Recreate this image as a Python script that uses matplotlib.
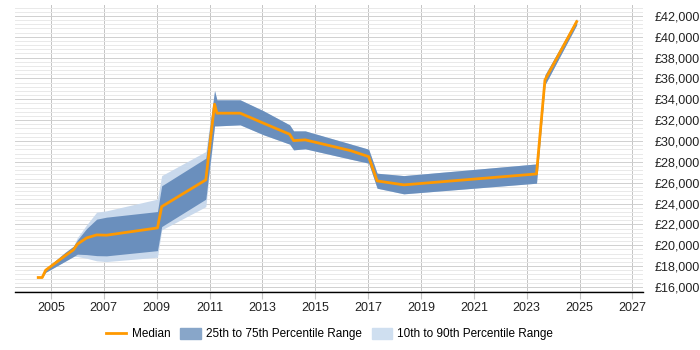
import matplotlib.pyplot as plt
from matplotlib.ticker import MultipleLocator, FuncFormatter
from matplotlib.patches import Patch
from matplotlib.lines import Line2D

plt.rcParams['font.family'] = ['Liberation Sans', 'DejaVu Sans']

# data (decimal years, GBP)
years = [2004.52, 2004.67, 2004.80, 2005.53, 2005.85, 2006.0, 2006.35, 2006.73, 2007.1,
         2009.03, 2009.19, 2010.86, 2011.19, 2011.28, 2012.16, 2013.04, 2014.03, 2014.18,
         2014.62, 2016.33, 2017.02, 2017.34, 2018.35, 2023.37, 2023.69, 2024.89]
median = [16900, 16900, 17600, 18975, 19550, 20100, 20700, 20990, 20960,
          21660, 23700, 26270, 33530, 32670, 32670, 31710, 30650, 30040,
          30110, 29080, 28500, 26170, 25790, 26840, 35860, 41460]
q75 = [16900, 16900, 17750, 19300, 19900, 20500, 21600, 22500, 22690,
       23230, 25700, 28350, 34840, 33950, 33950, 32900, 31550, 30970,
       30970, 29720, 29210, 26910, 26680, 27800, 36350, 41720]
q25 = [16900, 16900, 17400, 18450, 18910, 19140, 19100, 19000, 18980,
       19480, 21790, 24420, 31450, 31450, 31550, 30600, 29700, 29150,
       29250, 28260, 27870, 25470, 24930, 25950, 35390, 41140]
p90 = [16900, 16900, 17750, 19300, 19900, 20730, 21950, 23170, 23300,
       24420, 26680, 28990, 34840, 33950, 33950, 32900, 31550, 30970,
       30970, 29720, 29210, 26910, 26680, 27800, 36350, 41720]
p10 = [16900, 16900, 17400, 18450, 18910, 18910, 18750, 18500, 18430,
       18850, 21470, 23700, 31450, 31450, 31550, 30600, 29700, 29150,
       29250, 28260, 27870, 25470, 24930, 25950, 35390, 41140]
tick_years = list(range(2005, 2028, 2))

c_median = '#ff9900'
c_iqr = '#6a8fbd'
c_outer = '#c9d9ec'

fig = plt.figure(figsize=(7, 3.5), dpi=100)
ax = fig.add_axes([0.0214, 0.166, 0.8972, 0.8197])

ax.fill_between(years, p10, p90, color=c_outer, lw=0)
ax.fill_between(years, q25, q75, color=c_iqr, lw=0)
ax.plot(years, median, color=c_median, lw=2)

ax.set_xlim(2003.64, 2027.4)
ax.set_ylim(15520, 43050)

ax.set_xticks(tick_years)
ax.set_xticklabels([str(y) for y in tick_years])
ax.yaxis.set_major_locator(MultipleLocator(2000))
ax.yaxis.set_minor_locator(MultipleLocator(400))
ax.yaxis.set_major_formatter(FuncFormatter(lambda v, p: f'£{int(v):,}'))
ax.yaxis.tick_right()

ax.grid(True, which='major', axis='x', color='#c4c4c4', lw=0.7)
ax.grid(True, which='major', axis='y', color='#d0d0d0', lw=0.7)
ax.grid(True, which='minor', axis='y', color='#e9e9e9', lw=0.7)
ax.set_axisbelow(True)

for s in ['top', 'left', 'right']:
    ax.spines[s].set_visible(False)
ax.spines['bottom'].set_color('#000000')
ax.spines['bottom'].set_linewidth(1)

ax.tick_params(axis='x', length=5, color='#c4c4c4', labelsize=9, pad=2, labelcolor='#222222')
ax.tick_params(axis='y', which='both', length=0, labelsize=9, pad=8, labelcolor='#222222')

handles = [Line2D([0], [0], color=c_median, lw=2),
           Patch(color='#88a6c9'), Patch(color='#cfdff0')]
labels = ['Median', '25th to 75th Percentile Range', '10th to 90th Percentile Range']
fig.legend(handles, labels, loc='center', bbox_to_anchor=(0.471, 0.045), ncol=3,
           frameon=False, fontsize=8.5, handlelength=1.7, handleheight=1.0,
           columnspacing=0.85, handletextpad=0.45)

fig.savefig('out.png', dpi=100)
